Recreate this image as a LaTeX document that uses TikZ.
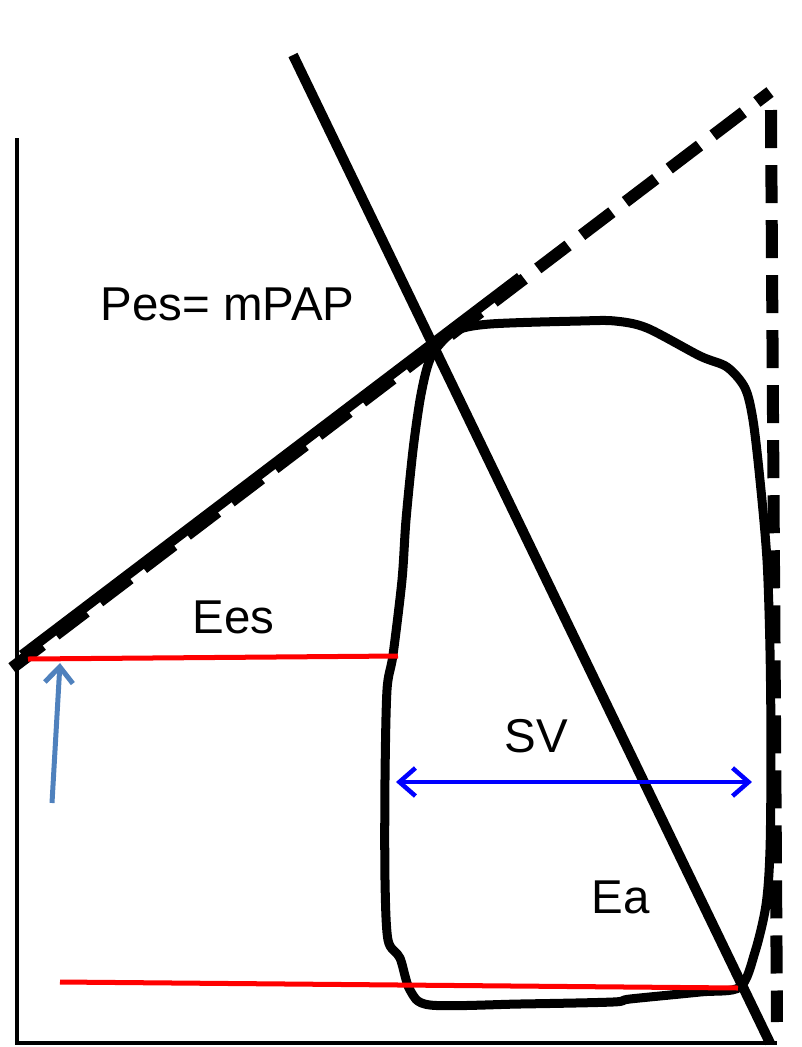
\documentclass[tikz,border=0pt]{standalone}
\usepackage{fontspec}
\setmainfont{Liberation Sans}
\usetikzlibrary{arrows.meta}

\begin{document}
\begin{tikzpicture}[
  x=0.01cm, y=-0.01cm,
  axis/.style={line width=0.04cm, line cap=rect},
  bold/.style={line width=0.1cm},
  dashline/.style={line width=0.12cm, dash pattern=on 0.38cm off 0.17cm},
  level/.style={draw=red, line width=0.05cm},
  lbl/.style={font=\fontsize{13.5}{16}\selectfont, anchor=base west, inner sep=0pt},
  barb/.style={-{Straight Barb[length=0.16cm, width=0.28cm, line width=0.05cm]}}
]
\useasboundingbox (0,0) rectangle (802,1047);
% axes
\coordinate (ytop) at (17,140);
\coordinate (origin) at (17,1043);
\coordinate (xend) at (775,1043);
\draw[axis] (ytop) -- (origin) -- (xend);
% end-systolic elastance line
\coordinate (esA) at (22,655);
\coordinate (esB) at (520,277);
\coordinate (dA) at (12,668);
\coordinate (dB) at (770,92);
\coordinate (dC) at (771,110);
\coordinate (dD) at (777,1022);
\draw[bold] (esA) -- (esB);
\draw[dashline] (dA) -- (dB);
\draw[dashline] (dC) -- (dD);
% arterial elastance line
\coordinate (eaA) at (293,55);
\coordinate (eaB) at (770,1043);
\draw[bold] (eaA) -- (eaB);
% pressure-volume loop
\draw[line width=0.09cm, rounded corners=0pt] plot[smooth cycle, tension=0.5] coordinates {
  (435,350) (455,331) (490,324) (580,321) (615,321) (647,328) (700,356)
  (727,367) (745,388) (753,420) (760,480) (767,560) (770,650) (771,750)
  (770,850) (766,905) (755,952) (740,987) (700,992) (630,999) (613,1002)
  (520,1004) (430,1005) (410,990) (400,958) (388,940) (385,880) (385,780)
  (387,690) (393,655) (402,580) (406,520) (413,450) (420,400) (427,368)};
% red reference levels
\coordinate (topL) at (28,659);
\coordinate (topR) at (398,656);
\coordinate (botL) at (60,982);
\coordinate (botR) at (738,988);
\draw[level] (topL) -- (topR);
\draw[level] (botL) -- (botR);
% arrows
\coordinate (upS) at (52,803);
\coordinate (upE) at (60,663);
\draw[barb, draw={rgb,255:red,79;green,129;blue,189}, line width=0.05cm] (upS) -- (upE);
\coordinate (svL) at (396,782);
\coordinate (svR) at (752,782);
\draw[barb, {Straight Barb[length=0.16cm, width=0.28cm, line width=0.045cm]}-{Straight Barb[length=0.16cm, width=0.28cm, line width=0.045cm]}, draw=blue, line width=0.045cm] (svL) -- (svR);
% labels
\node[lbl] (pes) at (100,320) {Pes= mPAP};
\node[lbl] (ees) at (192,633) {Ees};
\node[lbl] (sv) at (504,752) {SV};
\node[lbl] (ea) at (591,913) {Ea};
\end{tikzpicture}
\end{document}
